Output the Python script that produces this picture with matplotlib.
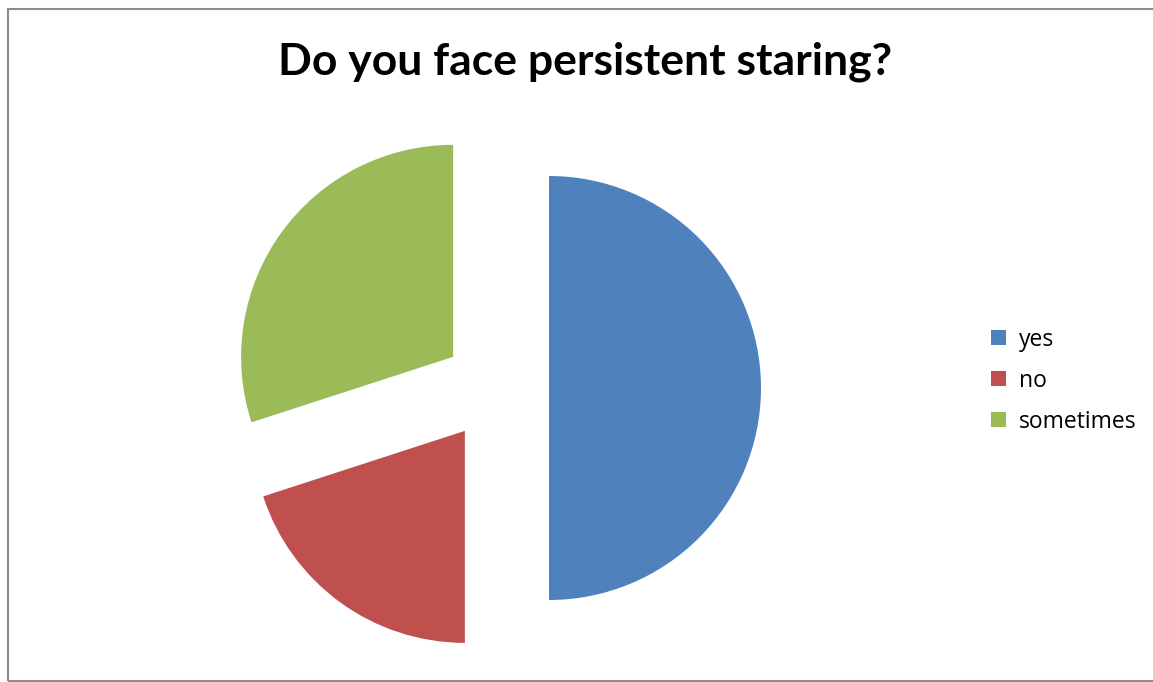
import matplotlib.pyplot as plt
from matplotlib.patches import Rectangle

# survey answers
labels = ["yes", "no", "sometimes"]
shares = [50, 20, 30]
colors = ["#4F81BD", "#C0504D", "#9BBB59"]

fig = plt.figure(figsize=(11.53, 6.82), dpi=100)
ax = fig.add_axes([0, 0, 1, 1])

wedges, _ = ax.pie(shares, colors=colors, startangle=90, counterclock=False,
                   explode=[0.25] * 3, radius=1)

# scale so one radius is ~212 px and the pie sits left of centre
r_px = 212.0
ax.set_aspect("auto")
ax.set_xlim(-496 / r_px, (1153 - 496) / r_px)
ax.set_ylim(-(682 - 388) / r_px, 388 / r_px)
ax.axis("off")

fig.text(0.507, 0.910, "Do you face persistent staring?", ha="center", va="center",
         fontsize=32, fontweight="bold", family="Lato")

fig.legend(wedges, labels, loc="center left", bbox_to_anchor=(0.8595, 0.442),
           frameon=False, prop={"family": "Open Sans", "size": 16.5},
           borderpad=0, borderaxespad=0,
           handlelength=0.66, handleheight=0.66, handletextpad=0.55,
           labelspacing=0.74)

# chart frame
fig.patches.append(Rectangle((8 / 1153, 1 / 682), 1.2, 672 / 682,
                             transform=fig.transFigure, fill=False,
                             edgecolor="#8c8c8c", linewidth=1.5))

fig.savefig("out.png", dpi=100)
